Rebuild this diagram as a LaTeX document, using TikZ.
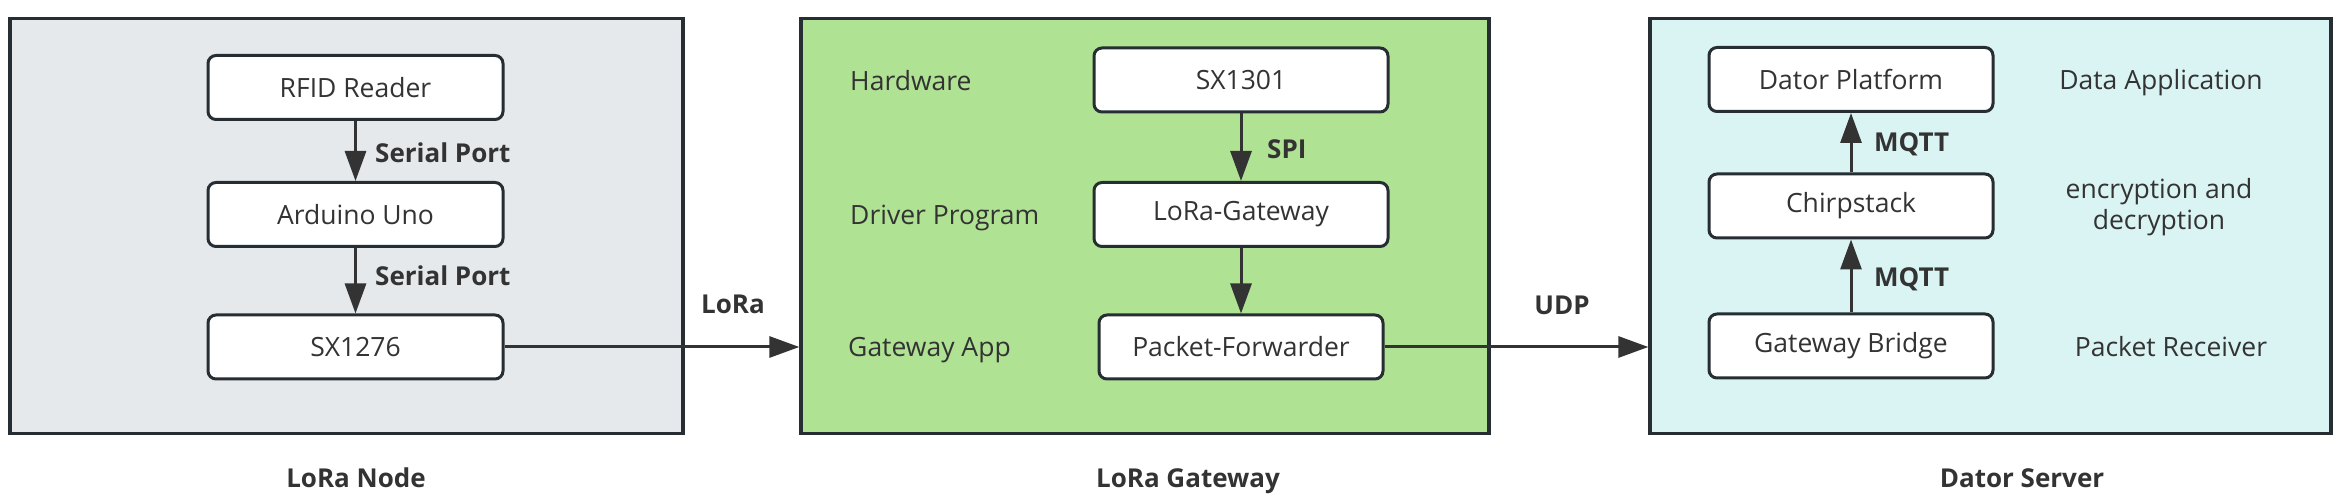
\documentclass[tikz,border=0pt]{standalone}
\usepackage{fontspec}
\setmainfont{Open Sans}
\usetikzlibrary{arrows.meta}
\definecolor{bordc}{HTML}{262D33}
\definecolor{txtc}{HTML}{333333}
\definecolor{grayfill}{HTML}{E6E9EC}
\definecolor{greenfill}{HTML}{B0E294}
\definecolor{cyanfill}{HTML}{DAF4F4}
\begin{document}
\begin{tikzpicture}[x=1pt,y=-1pt,
  panel/.style={draw=bordc,line width=3.3pt,inner sep=0pt,minimum height=415pt},
  box/.style={draw=bordc,fill=white,line width=3pt,rounded corners=8pt,minimum height=64pt,inner sep=0pt,font=\fontsize{26.5}{31}\selectfont,text=txtc},
  lbl/.style={font=\fontsize{26.5}{31}\selectfont,text=txtc,inner sep=0pt},
  blbl/.style={font=\bfseries\fontsize{26}{31}\selectfont,text=txtc,inner sep=0pt},
  arr/.style={draw=txtc,line width=3pt,-{Triangle[length=30pt,width=21pt]}}]
\useasboundingbox (0,0) rectangle (2343,502);
% panels
\node[panel,fill=grayfill,minimum width=673pt] (p1) at (346.5,226) {};
\node[panel,fill=greenfill,minimum width=688pt] (p2) at (1145,226) {};
\node[panel,fill=cyanfill,minimum width=681pt] (p3) at (1990.5,226) {};
% node boxes
\node[box,minimum width=295pt] (rfid) at (355.5,87.5) {RFID Reader};
\node[box,minimum width=295pt] (uno) at (355.5,214.5) {Arduino Uno};
\node[box,minimum width=295pt] (sx76) at (355.5,347) {SX1276};
\node[box,minimum width=294pt] (sx01) at (1241,80) {SX1301};
\node[box,minimum width=294pt] (lgw) at (1241,214.5) {LoRa-Gateway};
\node[box,minimum width=284pt] (pf) at (1241,347) {Packet-Forwarder};
\node[box,minimum width=284pt] (dp) at (1851,79.5) {Dator Platform};
\node[box,minimum width=284pt] (cs) at (1851,206) {Chirpstack};
\node[box,minimum width=284pt] (gb) at (1851,346) {Gateway Bridge};
% connectors
\draw[arr] (rfid) -- (uno);
\draw[arr] (uno) -- (sx76);
\draw[arr] (sx76.east) -- (sx76.east -| p2.west);
\draw[arr] (sx01) -- (lgw);
\draw[arr] (lgw) -- (pf);
\draw[arr] (pf.east) -- (pf.east -| p3.west);
\draw[arr] (gb) -- (cs);
\draw[arr] (cs) -- (dp);
% connector labels
\node[blbl,anchor=base west] (sp1) at (375,163) {Serial Port};
\node[blbl,anchor=base west] (sp2) at (375,286) {Serial Port};
\node[blbl,anchor=base] (lora) at (733,314) {LoRa};
\node[blbl,anchor=base west] (spi) at (1267,159) {SPI};
\node[blbl,anchor=base] (udp) at (1562,315) {UDP};
\node[blbl,anchor=base west] (mq1) at (1874,152) {MQTT};
\node[blbl,anchor=base west] (mq2) at (1874,287) {MQTT};
% side texts
\node[lbl,anchor=base west] (hw) at (850,91) {Hardware};
\node[lbl,anchor=base west] (drv) at (850,225) {Driver Program};
\node[lbl,anchor=base west] (gapp) at (848,357) {Gateway App};
\node[lbl,anchor=base] (dapp) at (2161,90) {Data Application};
\node[lbl,anchor=base] (enc1) at (2159,199) {encryption and};
\node[lbl,anchor=base] (enc2) at (2159,230) {decryption};
\node[lbl,anchor=base] (prec) at (2171,357) {Packet Receiver};
% panel titles
\node[blbl,anchor=base] (t1) at (356,487) {LoRa Node};
\node[blbl,anchor=base] (t2) at (1188,487) {LoRa Gateway};
\node[blbl,anchor=base] (t3) at (2022,487) {Dator Server};
\end{tikzpicture}
\end{document}
